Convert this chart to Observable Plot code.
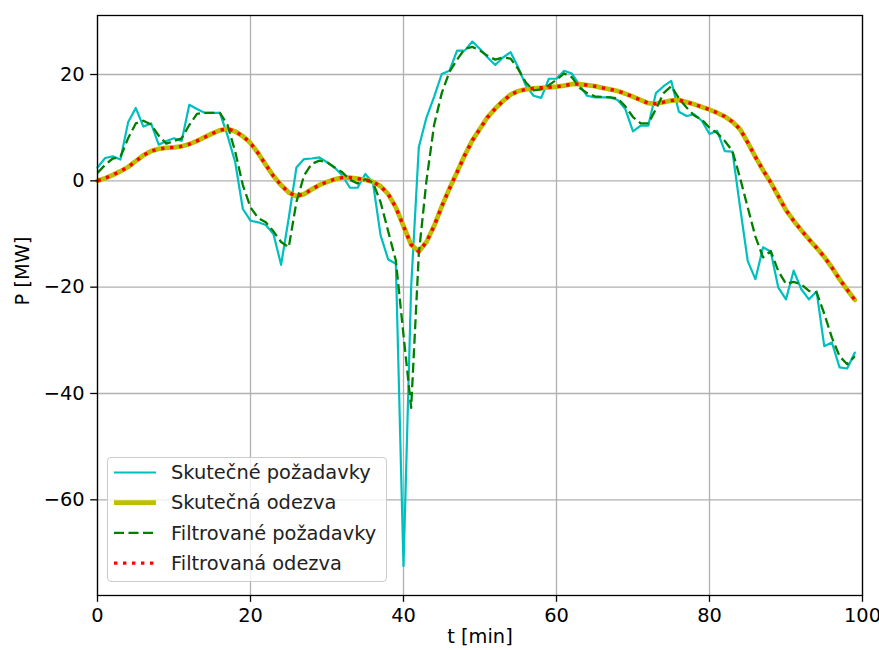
<!DOCTYPE html>
<html>
<head>
<meta charset="utf-8">
<script src="https://cdn.jsdelivr.net/npm/d3@7"></script>
<script src="https://cdn.jsdelivr.net/npm/@observablehq/plot@0.6"></script>
<style>
  html, body { margin: 0; padding: 0; background: white; }
  #wrap { position: relative; width: 879px; height: 650px; font-family: "DejaVu Sans", sans-serif; }
  #legend { position: absolute; left: 107px; top: 457px; width: 280px; height: 125px;
            box-sizing: border-box; border: 1px solid #cccccc; border-radius: 4px;
            background: rgba(255,255,255,0.8); }
  #legend svg { position: absolute; left: 0; top: 0; }
</style>
</head>
<body>
<div id="wrap"></div>
<script>
// Time axis (minutes)
const minutes = d3.range(0, 100);

// Skutečné požadavky (cyan)
const skutecnePozadavky = [
  2.5, 4.3, 4.6, 4.0, 11.0, 13.7, 10.2, 10.8, 6.8, 7.5,
  8.0, 7.5, 14.3, 13.5, 12.8, 12.8, 12.8, 8.5, 3.5, -5.3,
  -7.5, -7.8, -8.3, -10.0, -15.8, -7.0, 2.5, 4.1, 4.2, 4.4,
  3.5, 2.5, 1.0, -1.3, -1.3, 1.3, -0.3, -10.2, -14.8, -15.6,
  -72.5, -20.0, 6.3, 11.9, 15.8, 20.1, 20.7, 24.5, 24.5, 26.2,
  24.8, 23.2, 21.8, 23.2, 24.2, 21.3, 17.9, 16.0, 15.6, 19.2,
  19.2, 20.7, 20.2, 18.0, 16.0, 15.7, 15.7, 15.7, 15.2, 13.5,
  9.3, 10.4, 10.4, 16.5, 17.8, 18.8, 13.0, 12.2, 12.5, 11.3,
  8.8, 9.4, 5.6, 5.5, -5.0, -15.1, -18.5, -12.5, -13.3, -20.1,
  -22.3, -16.9, -20.4, -22.3, -20.8, -31.1, -30.4, -35.1, -35.3, -32.3
];

// Filtrované požadavky (green dashed)
const filtrovanePozadavky = [
  1.5, 3.0, 4.2, 4.5, 8.0, 10.8, 11.3, 10.6, 8.5, 7.0,
  7.5, 8.0, 10.5, 12.6, 12.8, 12.8, 12.8, 10.5, 5.5, -0.8,
  -5.0, -7.0, -7.8, -9.5, -11.5, -12.5, -4.0, 1.0, 3.2, 3.8,
  3.5, 2.5, 1.6, 0.2, -0.5, 0.3, -0.3, -4.0, -9.5, -15.0,
  -29.0, -42.7, -13.8, 0.0, 10.5, 16.5, 20.5, 22.8, 24.8, 25.2,
  24.5, 23.5, 22.8, 23.2, 23.0, 21.0, 18.5, 17.0, 17.2, 18.0,
  19.0, 20.2, 19.5, 17.5, 16.5, 15.9, 15.8, 15.7, 15.5, 14.0,
  12.0, 10.8, 10.8, 13.5, 16.5, 17.8, 15.5, 13.8, 12.3, 11.5,
  10.0, 9.0, 7.5, 5.6, 0.5, -5.0, -10.5, -14.4, -13.2, -17.0,
  -19.4, -19.0, -19.5, -20.7, -21.0, -25.0, -29.5, -33.0, -34.5, -33.0
];

// Skutečná odezva (yellow, thick)
const skutecnaOdezva = [
  0.0, 0.5, 1.1, 1.8, 2.6, 3.7, 4.8, 5.6, 6.0, 6.2,
  6.3, 6.5, 6.9, 7.5, 8.2, 8.9, 9.5, 9.8, 9.3, 8.4,
  7.1, 5.2, 3.0, 0.9, -0.8, -2.2, -2.9, -2.5, -1.6, -0.8,
  -0.2, 0.3, 0.6, 0.6, 0.4, 0.2, -0.2, -1.0, -2.5, -5.0,
  -8.5, -12.0, -13.3, -11.5, -8.5, -4.8, -1.5, 1.6, 4.8, 7.6,
  9.8, 12.0, 13.6, 15.0, 16.2, 16.9, 17.2, 17.4, 17.5, 17.6,
  17.7, 17.9, 18.2, 18.2, 18.0, 17.8, 17.5, 17.2, 16.9, 16.4,
  15.8, 15.2, 14.6, 14.5, 14.8, 15.1, 15.2, 14.8, 14.4, 13.9,
  13.4, 12.8, 12.1, 11.1, 9.7, 7.2, 4.5, 2.0, -0.3, -2.9,
  -5.5, -7.5, -9.3, -11.0, -12.6, -14.3, -16.3, -18.5, -20.5, -22.4
];

// Filtrovaná odezva (red dotted)
const filtrovanaOdezva = [
  0.0, 0.5, 1.1, 1.8, 2.6, 3.7, 4.8, 5.6, 6.0, 6.2,
  6.3, 6.5, 6.9, 7.5, 8.2, 8.9, 9.5, 9.8, 9.3, 8.4,
  7.1, 5.2, 3.0, 0.9, -0.8, -2.2, -2.9, -2.5, -1.6, -0.8,
  -0.2, 0.3, 0.6, 0.6, 0.4, 0.2, -0.2, -1.0, -2.5, -5.0,
  -8.5, -12.0, -13.3, -11.5, -8.5, -4.8, -1.5, 1.6, 4.8, 7.6,
  9.8, 12.0, 13.6, 15.0, 16.2, 16.9, 17.2, 17.4, 17.5, 17.6,
  17.7, 17.9, 18.2, 18.2, 18.0, 17.8, 17.5, 17.2, 16.9, 16.4,
  15.8, 15.2, 14.6, 14.5, 14.8, 15.1, 15.2, 14.8, 14.4, 13.9,
  13.4, 12.8, 12.1, 11.1, 9.7, 7.2, 4.5, 2.0, -0.3, -2.9,
  -5.5, -7.5, -9.3, -11.0, -12.6, -14.3, -16.3, -18.5, -20.5, -22.4
];

const xTicks = [0, 20, 40, 60, 80, 100];
const yTicks = [-60, -40, -20, 0, 20];
const xLabel = "t [min]";
const yLabel = "P [MW]";

const seriesNames = ["Skutečné požadavky", "Skutečná odezva", "Filtrované požadavky", "Filtrovaná odezva"];
const seriesColors = ["#00bfbf", "#bfbf00", "#008000", "#ff0000"];

const data = minutes.map((t, i) => ({
  t,
  c: skutecnePozadavky[i],
  g: filtrovanePozadavky[i],
  yo: skutecnaOdezva[i],
  ro: filtrovanaOdezva[i]
}));

const FS = 19.4;
const fmt = d3.format("d");

const chart = Plot.plot({
  width: 879,
  height: 650,
  marginLeft: 97,
  marginRight: 17,
  marginTop: 15,
  marginBottom: 55,
  style: { fontFamily: "DejaVu Sans", fontSize: FS + "px", background: "white", color: "black" },
  x: { domain: [0, 100] },
  y: { domain: [-78, 31.1] },
  marks: [
    Plot.gridX({ ticks: xTicks, stroke: "#b0b0b0", strokeOpacity: 1, strokeWidth: 1.3 }),
    Plot.gridY({ ticks: yTicks, stroke: "#b0b0b0", strokeOpacity: 1, strokeWidth: 1.3 }),
    Plot.line(data, { x: "t", y: "c", stroke: seriesColors[0], strokeWidth: 2.2 }),
    Plot.line(data, { x: "t", y: "yo", stroke: seriesColors[1], strokeWidth: 4.8 }),
    Plot.line(data, { x: "t", y: "g", stroke: seriesColors[2], strokeWidth: 2.3, strokeDasharray: "10,4.5", strokeLinecap: "butt" }),
    Plot.line(data, { x: "t", y: "ro", stroke: seriesColors[3], strokeWidth: 3.4, strokeDasharray: "3.4,5.6", strokeLinecap: "butt" }),
    Plot.frame({ stroke: "black", strokeWidth: 1.3 }),
    Plot.axisX({ ticks: xTicks, tickFormat: fmt, tickSize: 6.8, tickPadding: 6, strokeWidth: 1.3, label: null, fontSize: FS }),
    Plot.axisY({ ticks: yTicks, tickFormat: fmt, tickSize: 6.8, tickPadding: 6, strokeWidth: 1.3, label: null, fontSize: FS }),
    Plot.text([xLabel], { frameAnchor: "bottom", dy: 47, fontSize: FS, text: d => d }),
    Plot.text([yLabel], { frameAnchor: "left", dx: -75, rotate: -90, fontSize: FS, text: d => d })
  ]
});

const wrap = document.getElementById("wrap");
wrap.appendChild(chart);

// Legend (overlaid, lower left inside the axes)
const legend = document.createElement("div");
legend.id = "legend";
const ns = "http://www.w3.org/2000/svg";
const lsvg = document.createElementNS(ns, "svg");
lsvg.setAttribute("width", 280);
lsvg.setAttribute("height", 125);
const styles = [
  { w: 2.2, dash: null },
  { w: 4.8, dash: null },
  { w: 2.3, dash: "10,4.5" },
  { w: 3.4, dash: "3.4,5.6" }
];
seriesNames.forEach((name, i) => {
  const yy = 14.5 + i * 30.2;
  const ln = document.createElementNS(ns, "line");
  ln.setAttribute("x1", 6);
  ln.setAttribute("x2", 48);
  ln.setAttribute("y1", yy);
  ln.setAttribute("y2", yy);
  ln.setAttribute("stroke", seriesColors[i]);
  ln.setAttribute("stroke-width", styles[i].w);
  if (styles[i].dash) ln.setAttribute("stroke-dasharray", styles[i].dash);
  lsvg.appendChild(ln);
  const tx = document.createElementNS(ns, "text");
  tx.setAttribute("x", 63);
  tx.setAttribute("y", yy);
  tx.setAttribute("dy", "0.35em");
  tx.setAttribute("font-family", "DejaVu Sans");
  tx.setAttribute("font-size", FS);
  tx.setAttribute("fill", "#222");
  tx.textContent = name;
  lsvg.appendChild(tx);
});
legend.appendChild(lsvg);
wrap.appendChild(legend);
</script>
</body>
</html>
